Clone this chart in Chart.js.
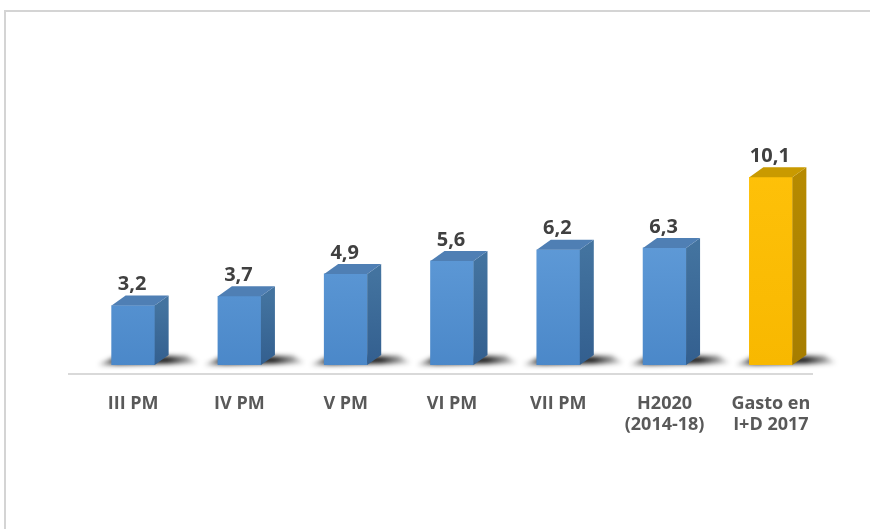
<!DOCTYPE html>
<html>
<head>
<meta charset="utf-8">
<script src="https://cdn.jsdelivr.net/npm/chart.js@4.4.0/dist/chart.umd.min.js"></script>
<style>
  html, body { margin: 0; padding: 0; background: #fff; }
  #wrap { width: 870px; height: 529px; position: relative; }
</style>
</head>
<body>
<div id="wrap"><canvas id="gastoChart" width="870" height="529"></canvas></div>
<script>
// Gasto por programa (miles de millones de euros)
const categories = ['III PM', 'IV PM', 'V PM', 'VI PM', 'VII PM', ['H2020', '(2014-18)'], ['Gasto en', 'I+D 2017']];
const values = [3.2, 3.7, 4.9, 5.6, 6.2, 6.3, 10.1];
const highlight = [false, false, false, false, false, false, true];

const DX = 14, DY = 10;

const palette = {
    blue: { front1: '#6ea8e2', front2: '#4b88c9', side1: '#43739f', side2: '#335f8f', top: '#4f7fb4' },
    gold: { front1: '#ffc20a', front2: '#f8b800', side1: '#b68a00', side2: '#a67d00', top: '#c99a00' }
};

function colorsFor(i) { return highlight[i] ? palette.gold : palette.blue; }

const bars3d = {
    id: 'bars3d',
    beforeDraw(chart) {
        const ctx = chart.ctx;
        ctx.save();
        ctx.strokeStyle = '#d4d4d4';
        ctx.lineWidth = 2;
        ctx.beginPath();
        ctx.moveTo(5, 529);
        ctx.lineTo(5, 11);
        ctx.lineTo(870, 11);
        ctx.stroke();
        ctx.restore();
    },
    beforeDatasetsDraw(chart) {
        const ctx = chart.ctx;
        const area = chart.chartArea;
        ctx.save();
        // floor line
        ctx.strokeStyle = '#d9d9d9';
        ctx.lineWidth = 2;
        ctx.beginPath();
        ctx.moveTo(area.left - 12, area.bottom + 9);
        ctx.lineTo(area.right - 11, area.bottom + 9);
        ctx.stroke();
        // soft shadows at the foot of each bar
        ctx.filter = 'blur(2.5px)';
        chart.getDatasetMeta(0).data.forEach(bar => {
            const l = bar.x - bar.width / 2, r = bar.x + bar.width / 2;
            const g = ctx.createLinearGradient(l - 14, 0, r + DX + 30, 0);
            g.addColorStop(0, 'rgba(10,10,10,0.2)');
            g.addColorStop(0.2, 'rgba(10,10,10,0.95)');
            g.addColorStop(0.7, 'rgba(10,10,10,0.95)');
            g.addColorStop(1, 'rgba(10,10,10,0.1)');
            ctx.fillStyle = g;
            ctx.beginPath();
            ctx.moveTo(l - 14, bar.base);
            ctx.lineTo(l + 4, bar.base - 8);
            ctx.lineTo(r + DX + 18, bar.base - 9);
            ctx.lineTo(r + DX + 30, bar.base - 2);
            ctx.closePath();
            ctx.fill();
        });
        ctx.restore();
    },
    afterDatasetsDraw(chart) {
        const ctx = chart.ctx;
        ctx.save();
        chart.getDatasetMeta(0).data.forEach((bar, i) => {
            const c = colorsFor(i);
            const l = bar.x - bar.width / 2, r = bar.x + bar.width / 2;
            const t = bar.y, b = bar.base;
            // side face
            const sg = ctx.createLinearGradient(0, t, 0, b);
            sg.addColorStop(0, c.side1);
            sg.addColorStop(1, c.side2);
            ctx.fillStyle = sg;
            ctx.beginPath();
            ctx.moveTo(r, t);
            ctx.lineTo(r + DX, t - DY);
            ctx.lineTo(r + DX, b - DY);
            ctx.lineTo(r, b);
            ctx.closePath();
            ctx.fill();
            // top face
            ctx.fillStyle = c.top;
            ctx.beginPath();
            ctx.moveTo(l, t);
            ctx.lineTo(l + DX, t - DY);
            ctx.lineTo(r + DX, t - DY);
            ctx.lineTo(r, t);
            ctx.closePath();
            ctx.fill();
            // value label
            ctx.fillStyle = '#404040';
            ctx.font = 'bold 20px "Open Sans", sans-serif';
            ctx.textAlign = 'center';
            ctx.textBaseline = 'middle';
            ctx.fillText(values[i].toFixed(1).replace('.', ','), bar.x - 1, t - 21);
        });
        ctx.restore();
    }
};

const ctx = document.getElementById('gastoChart').getContext('2d');
new Chart(ctx, {
    type: 'bar',
    data: {
        labels: categories,
        datasets: [{
            data: values,
            barThickness: 43,
            backgroundColor: (context) => {
                const chart = context.chart;
                const area = chart.chartArea;
                if (!area) return palette.blue.front2;
                const c = colorsFor(context.dataIndex);
                const g = chart.ctx.createLinearGradient(0, area.top, 0, area.bottom);
                g.addColorStop(0, c.front1);
                g.addColorStop(1, c.front2);
                return g;
            },
            borderWidth: 0
        }]
    },
    options: {
        responsive: false,
        animation: false,
        layout: { padding: { top: 142, left: 80, right: 46, bottom: 0 } },
        plugins: {
            legend: { display: false },
            tooltip: { enabled: false }
        },
        scales: {
            x: {
                afterFit: (axis) => { axis.height = 164; },
                grid: { display: false, drawTicks: false },
                border: { display: false },
                ticks: {
                    color: '#595959',
                    padding: 28,
                    maxRotation: 0,
                    font: { family: '"Open Sans", sans-serif', size: 18, weight: 'bold', lineHeight: 1.18 }
                }
            },
            y: {
                display: false,
                min: 0,
                max: 12
            }
        }
    },
    plugins: [bars3d]
});
</script>
</body>
</html>
